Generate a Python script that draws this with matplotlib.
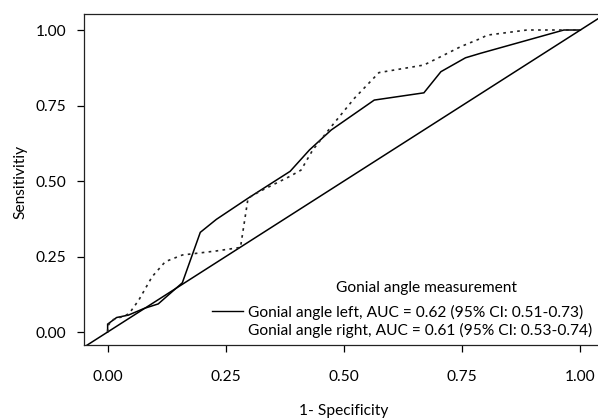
import matplotlib
matplotlib.use("Agg")
import matplotlib.pyplot as plt
from matplotlib.lines import Line2D

# Data
left_fpr = [0.0, 0.0, 0.019, 0.044, 0.077, 0.107, 0.158, 0.196, 0.230, 0.297,
            0.386, 0.427, 0.473, 0.564, 0.669, 0.705, 0.757, 0.789, 0.965, 1.0]
left_tpr = [0.0, 0.026, 0.048, 0.056, 0.078, 0.093, 0.163, 0.330, 0.373, 0.443,
            0.532, 0.603, 0.669, 0.768, 0.792, 0.862, 0.908, 0.923, 1.0, 1.0]

right_fpr = [0.0, 0.0, 0.010, 0.024, 0.045, 0.066, 0.094, 0.122, 0.158, 0.228,
             0.281, 0.297, 0.321, 0.385, 0.409, 0.434, 0.473, 0.522, 0.574,
             0.669, 0.705, 0.747, 0.789, 0.803, 0.887, 1.0]
right_tpr = [0.0, 0.02, 0.040, 0.047, 0.060, 0.106, 0.183, 0.233, 0.255, 0.268,
             0.280, 0.443, 0.465, 0.515, 0.536, 0.603, 0.680, 0.774, 0.859,
             0.884, 0.912, 0.945, 0.972, 0.983, 1.0, 1.0]

ticks = [0.0, 0.25, 0.5, 0.75, 1.0]
tick_labels = ["0.00", "0.25", "0.50", "0.75", "1.00"]
left_label = "Gonial angle left, AUC = 0.62 (95% CI: 0.51-0.73)"
right_label = "Gonial angle right, AUC = 0.61 (95% CI: 0.53-0.74)"
legend_title = "Gonial angle measurement"

plt.rcParams['font.family'] = ['Lato', 'DejaVu Sans']
W, H = 598, 420
fs = 11.2
fig = plt.figure(figsize=(W / 100, H / 100), dpi=100)
ax = fig.add_axes([84 / W, 1 - 345 / H, (604 - 84) / W, (345 - 14) / H])

ax.plot([-0.05, 1.05], [-0.05, 1.05], color="black", lw=1.1)
ax.plot(left_fpr, left_tpr, color="black", lw=1.1, solid_joinstyle="miter")
ax.plot(right_fpr, right_tpr, color="#222222", lw=1.2, linestyle=(0, (1.6, 2.6)))

ax.set_xlim(-0.05, 1.05)
ax.set_ylim(-0.043, 1.053)
ax.set_xticks(ticks)
ax.set_xticklabels(tick_labels)
ax.set_yticks(ticks)
ax.set_yticklabels(tick_labels)
ax.tick_params(axis="both", length=5, width=0.9, labelsize=fs, colors="black")
ax.tick_params(axis="x", pad=13)
ax.tick_params(axis="y", pad=8)
for s in ax.spines.values():
    s.set_linewidth(0.9)
    s.set_color("#222222")

fig.text(344 / W, 1 - 411 / H, "1- Specificity", ha="center", va="center", fontsize=fs)
fig.text(20 / W, 1 - 182 / H, "Sensitivitiy", ha="center", va="center",
         rotation=90, fontsize=fs)

handles = [Line2D([], [], color="black", lw=1.0),
           Line2D([], [], color="none", lw=1.0)]
leg = ax.legend(handles, [left_label, right_label], loc="lower left",
                bbox_to_anchor=(212 / W, 1 - 338 / H), bbox_transform=fig.transFigure,
                frameon=False, fontsize=fs, handlelength=2.0, handletextpad=0.3,
                labelspacing=0.2, borderpad=0, borderaxespad=0)
fig.text(427 / W, 1 - 288 / H, legend_title, ha="center", va="center", fontsize=fs)

fig.savefig("out.png", dpi=100)
